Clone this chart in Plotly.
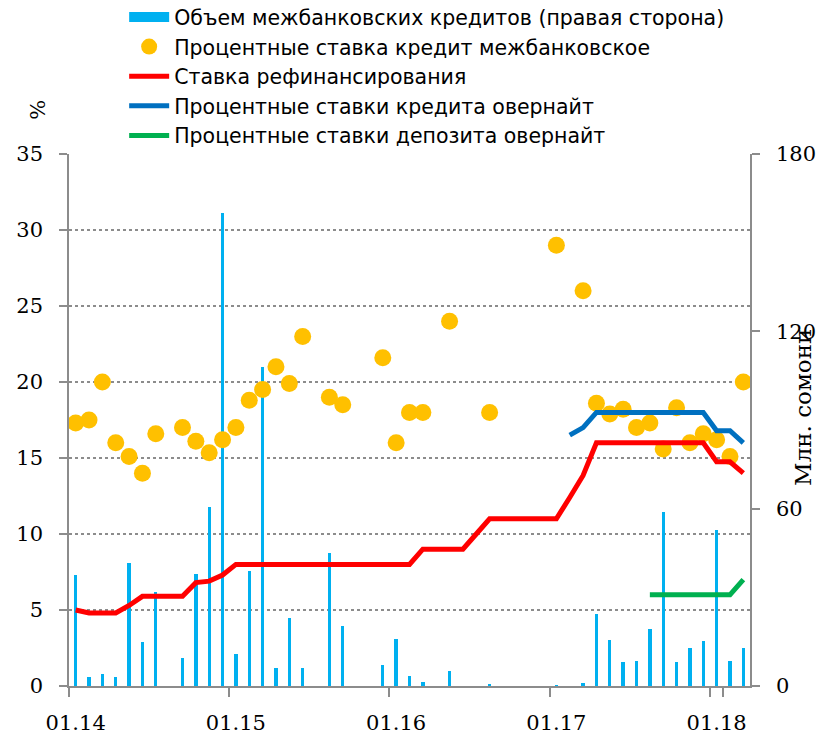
import plotly.graph_objects as go

# ---- data ----
months = [f"{m:02d}.{y}" for y in range(14, 19) for m in range(1, 13)][:51]

volume = [37.6, 3.0, 3.9, 3.0, 41.6, 15.0, 31.9, 0, 9.5, 38.0, 60.4, 160.1,
          10.8, 39.0, 107.9, 6.0, 23.0, 6.0, 0, 45.0, 20.4, 0, 0, 7.0,
          16.0, 3.4, 1.5, 0, 5.1, 0, 0, 0.5, 0, 0, 0, 0,
          0.3, 0, 0.9, 24.2, 15.6, 8.1, 8.5, 19.3, 58.9, 8.1, 12.9, 15.2,
          52.8, 8.5, 12.9]

interbank_rate = [17.3, 17.5, 20.0, 16.0, 15.1, 14.0, 16.6, None, 17.0, 16.1, 15.35, 16.2,
                  17.0, 18.8, 19.5, 21.0, 19.9, 23.0, None, 19.0, 18.5, None, None, 21.6,
                  16.0, 18.0, 18.0, None, 24.0, None, None, 18.0, None, None, None, None,
                  29.0, None, 26.0, 18.6, 17.9, 18.2, 17.0, 17.3, 15.6, 18.3, 16.0, 16.6,
                  16.2, 15.1, 20.0]

refi_rate = [5.0, 4.8, 4.8, 4.8, 5.3, 5.9, 5.9, 5.9, 5.9, 6.8, 6.9, 7.3,
             8.0, 8.0, 8.0, 8.0, 8.0, 8.0, 8.0, 8.0, 8.0, 8.0, 8.0, 8.0,
             8.0, 8.0, 9.0, 9.0, 9.0, 9.0, 10.0, 11.0, 11.0, 11.0, 11.0, 11.0,
             11.0, 12.4, 13.85, 16.0, 16.0, 16.0, 16.0, 16.0, 16.0, 16.0, 16.0, 16.0,
             14.75, 14.75, 14.0]

overnight_credit = [None] * 37 + [16.5, 17.0, 18.0, 18.0, 18.0, 18.0, 18.0, 18.0, 18.0,
                                  18.0, 18.0, 16.8, 16.8, 16.0]

overnight_deposit = [None] * 43 + [6.0, 6.0, 6.0, 6.0, 6.0, 6.0, 6.0, 7.0]

x_ticks = ["01.14", "01.15", "01.16", "01.17", "01.18"]

names = ["Объем межбанковских кредитов (правая сторона)",
         "Процентные ставка кредит межбанковское",
         "Ставка рефинансирования",
         "Процентные ставки кредита овернайт",
         "Процентные ставки депозита овернайт"]

# ---- figure ----
fig = go.Figure()
fig.add_trace(go.Bar(x=months, y=volume, name=names[0], marker_color="#00B0F0",
                     marker_line_width=0, width=0.25, yaxis="y", showlegend=False,
                     legendgroup="vol"))
# legend-only entry giving the bar series a wide rectangular swatch
fig.add_trace(go.Scatter(x=[None], y=[None], name=names[0], mode="lines",
                         line=dict(color="#00B0F0", width=12), yaxis="y",
                         legendgroup="vol", hoverinfo="skip"))
fig.add_trace(go.Scatter(x=months, y=interbank_rate, name=names[1], mode="markers",
                         marker=dict(color="#FFC000", size=17), yaxis="y2"))
fig.add_trace(go.Scatter(x=months, y=refi_rate, name=names[2], mode="lines",
                         line=dict(color="#FF0000", width=5), yaxis="y2"))
fig.add_trace(go.Scatter(x=months, y=overnight_credit, name=names[3], mode="lines",
                         line=dict(color="#0070C0", width=5), yaxis="y2"))
fig.add_trace(go.Scatter(x=months, y=overnight_deposit, name=names[4], mode="lines",
                         line=dict(color="#00B050", width=5), yaxis="y2"))

tickfont = dict(family="DejaVu Serif", size=21, color="#000000")
axcol = "#8C8C8C"

fig.update_layout(
    width=817, height=735,
    margin=dict(l=69, r=67, t=154, b=49, autoexpand=False),
    plot_bgcolor="white", paper_bgcolor="white",
    showlegend=True,
    legend=dict(x=0.081, y=1.295, xanchor="left", yanchor="top",
                font=dict(family="DejaVu Sans", size=20.5, color="#000000"),
                bgcolor="rgba(0,0,0,0)", itemwidth=40, tracegroupgap=0),
    xaxis=dict(type="category", categoryorder="array", categoryarray=months,
               range=[-0.5, 50.5], tickmode="array", tickvals=x_ticks, ticktext=x_ticks,
               tickson="boundaries", ticks="outside", ticklen=9, tickcolor=axcol,
               tickwidth=1.5, showline=True, linecolor=axcol, linewidth=1.5,
               showgrid=False, tickfont=tickfont, zeroline=False, tickangle=0,
               automargin=False, ticklabelstandoff=17),
    yaxis=dict(side="right", range=[0, 180], tickvals=[0, 60, 120, 180],
               ticks="outside", ticklen=8, tickcolor=axcol, tickwidth=1.5,
               showline=True, linecolor=axcol, linewidth=1.5, showgrid=False,
               zeroline=False, tickfont=tickfont, automargin=False,
               ticklabelstandoff=12),
    yaxis2=dict(side="left", overlaying="y", range=[0, 35], dtick=5, tick0=0,
                ticks="outside", ticklen=8, tickcolor=axcol, tickwidth=1.5,
                showline=True, linecolor=axcol, linewidth=1.5, showgrid=True,
                gridcolor="#8C8C8C", griddash="dot", gridwidth=1.5,
                zeroline=False, tickfont=tickfont, automargin=False,
                ticklabelstandoff=12),
    bargap=0,
)

fig.add_annotation(text="%", xref="paper", yref="paper", x=-0.0455, y=1.083,
                   xanchor="center", yanchor="middle",
                   showarrow=False, textangle=-90,
                   font=dict(family="DejaVu Serif", size=21, color="#000000"))
fig.add_annotation(text="Млн. сомони", xref="paper", yref="paper", x=1.078, y=0.523,
                   xanchor="center", yanchor="middle",
                   showarrow=False, textangle=-90,
                   font=dict(family="DejaVu Serif", size=23, color="#000000"))

fig.write_html("out.html", config={"displayModeBar": False},
               post_script="document.body.style.margin='0px';")
